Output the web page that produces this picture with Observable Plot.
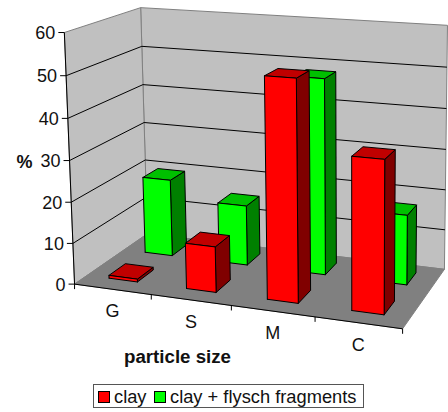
<!DOCTYPE html>
<html><head><meta charset="utf-8">
<script src="https://cdn.jsdelivr.net/npm/d3@7"></script>
<script src="https://cdn.jsdelivr.net/npm/@observablehq/plot@0.6"></script>
<style>
html,body{margin:0;padding:0;background:#fff;font-family:"Liberation Sans",Arial,sans-serif}
#wrap{position:relative;width:448px;height:412px;overflow:hidden}
#legend{position:absolute;left:93px;top:384px;width:271px;height:24px;box-sizing:border-box;border:1px solid #555;background:#fff;font-size:18.3px;color:#111}
#legend i{position:absolute;top:6px;width:12px;height:12px;box-sizing:border-box;border:1px solid #000}
#legend span{position:absolute;top:1px;line-height:21px;white-space:nowrap}
</style></head><body>
<div id="wrap"></div>
<script>
const categories = ["G", "S", "M", "C"];
const clay = [0.7, 11, 52, 35.5];
const flysch = [19.5, 15, 48, 17];
const yTicks = [0, 10, 20, 30, 40, 50, 60];
const seriesNames = ["clay", "clay + flysch fragments"];

const W = 448, H = 380;
// Camera calibration: box corners (u, v, w) and where they appear on the page
const calib = [
  [0,0,0, 74,283],[0,0,60, 64,32],[0,1,0, 147,234],[0,1,60, 140,7],
  [1,1,60, 447,25],[1,1,0, 444,268],[1,0,0, 402,329]
];
function solve(A,b){
  const n=b.length,M=A.map((r,i)=>[...r,b[i]]);
  for(let i=0;i<n;i++){
    let p=i;for(let r=i+1;r<n;r++)if(Math.abs(M[r][i])>Math.abs(M[p][i]))p=r;
    [M[i],M[p]]=[M[p],M[i]];
    for(let r=0;r<n;r++){if(r===i)continue;const f=M[r][i]/M[i][i];for(let c=i;c<=n;c++)M[r][c]-=f*M[i][c];}
  }
  return M.map((r,i)=>r[n]/r[i]);
}
const rows=[],rhs=[];
for(const [u,v,w0,x,y] of calib){
  const w=w0/60;
  rows.push([u,v,w,1,0,0,0,0,-x*u,-x*v,-x*w]);rhs.push(x);
  rows.push([0,0,0,0,u,v,w,1,-y*u,-y*v,-y*w]);rhs.push(y);
}
const ata=Array.from({length:11},(_,i)=>Array.from({length:11},(_,j)=>d3.sum(rows,r=>r[i]*r[j])));
const atb=Array.from({length:11},(_,i)=>d3.sum(rows,(r,k)=>r[i]*rhs[k]));
const m=solve(ata,atb);
function project(u,v,val){
  const w=val/60,d=m[8]*u+m[9]*v+m[10]*w+1;
  return [(m[0]*u+m[1]*v+m[2]*w+m[3])/d,(m[4]*u+m[5]*v+m[6]*w+m[7])/d];
}

const faces=[];
function face(pts,fill,stroke){
  const id=faces.length?faces[faces.length-1].id+1:0;
  [...pts,pts[0]].forEach(p=>{const [x,y]=project(...p);faces.push({id,x,y,fill,stroke});});
}
const maxV=60;
face([[0,1,0],[1,1,0],[1,1,maxV],[0,1,maxV]],"#c0c0c0","#808080");
face([[0,0,0],[0,1,0],[0,1,maxV],[0,0,maxV]],"#c0c0c0","#808080");
face([[0,0,0],[1,0,0],[1,1,0],[0,1,0]],"#808080","#808080");

const halfW=0.047, rowsV=[[0.16,0.38],[0.66,0.88]];
function bar(c,row,val,front,sideC,topC){
  const uc=(c+0.5)/categories.length+0.003*c-0.005,u0=uc-halfW,u1=uc+halfW,[v0,v1]=rowsV[row];
  face([[u1,v0,0],[u1,v1,0],[u1,v1,val],[u1,v0,val]],sideC,"#000");
  face([[u0,v0,val],[u1,v0,val],[u1,v1,val],[u0,v1,val]],topC,"#000");
  face([[u0,v0,0],[u1,v0,0],[u1,v0,val],[u0,v0,val]],front,"#000");
}
flysch.forEach((d,i)=>bar(i,1,d,"#00ff00","#008000","#00c000"));
clay.forEach((d,i)=>bar(i,0,d,"#ff0000","#800000","#c00000"));

const gridLeft=yTicks.filter(t=>t>0&&t<60).map(t=>({a:project(0,0,t),b:project(0,1,t)}));
const gridBack=yTicks.filter(t=>t>0&&t<60).map(t=>({a:project(0,1,t),b:project(1,1,t)}));
const link=(data,o)=>Plot.link(data,{x1:d=>d.a[0],y1:d=>d.a[1],x2:d=>d.b[0],y2:d=>d.b[1],stroke:"#000",strokeWidth:1,...o});
const walls=faces.filter(f=>f.id<2), floorF=faces.filter(f=>f.id===2), bars=faces.filter(f=>f.id>2);
const poly=data=>Plot.line(data,{x:"x",y:"y",z:"id",fill:{value:d=>d.fill,scale:null},stroke:{value:d=>d.stroke,scale:null},strokeWidth:1,curve:"linear"});

const axisY=[{a:project(0,0,0),b:project(0,0,60)}];
const axisX=[{a:project(0,0,0),b:project(1,0,0)}];
const ticksY=yTicks.map(t=>{const p=project(0,0,t);return {a:[p[0]-6,p[1]],b:p,t};});
const ticksX=d3.range(categories.length+1).map(i=>{const p=project(i/categories.length,0,0);return {a:p,b:[p[0],p[1]+5]};});
const catLabels=categories.map((c,i)=>{const p=project((i+0.5)/categories.length,0,0);return {c,x:p[0],y:p[1]+22};});

const font={fontFamily:"'Liberation Sans',Arial,sans-serif",fill:"#111"};
const plot=Plot.plot({
  width:W,height:H,margin:0,
  x:{type:"linear",domain:[0,W],range:[0,W],axis:null},
  y:{type:"linear",domain:[0,H],range:[0,H],axis:null},
  marks:[
    poly(walls),
    link(gridLeft),link(gridBack),
    poly(floorF),
    poly(bars),
    link(axisY),link(axisX),link(ticksY),link(ticksX),
    Plot.text(ticksY,{x:d=>d.a[0]-3,y:d=>d.a[1]+1,text:d=>String(d.t),textAnchor:"end",lineAnchor:"middle",fontSize:18,...font}),
    Plot.text(catLabels,{x:"x",y:"y",text:"c",textAnchor:"middle",lineAnchor:"middle",fontSize:18,...font}),
    Plot.text(["%"],{x:()=>24,y:()=>162,textAnchor:"middle",lineAnchor:"middle",fontSize:18,fontWeight:"bold",...font}),
    Plot.text(["particle size"],{x:()=>177,y:()=>357,textAnchor:"middle",lineAnchor:"middle",fontSize:18.7,fontWeight:"bold",...font})
  ]
});
plot.style.background="transparent";
const wrap=document.getElementById("wrap");
wrap.appendChild(plot);
const lg=document.createElement("div");lg.id="legend";
lg.innerHTML=`<i style="left:4px;background:#ff0000"></i><span style="left:20px">${seriesNames[0]}</span><i style="left:60px;background:#00ff00"></i><span style="left:76px">${seriesNames[1]}</span>`;
wrap.appendChild(lg);
</script>
</body></html>
